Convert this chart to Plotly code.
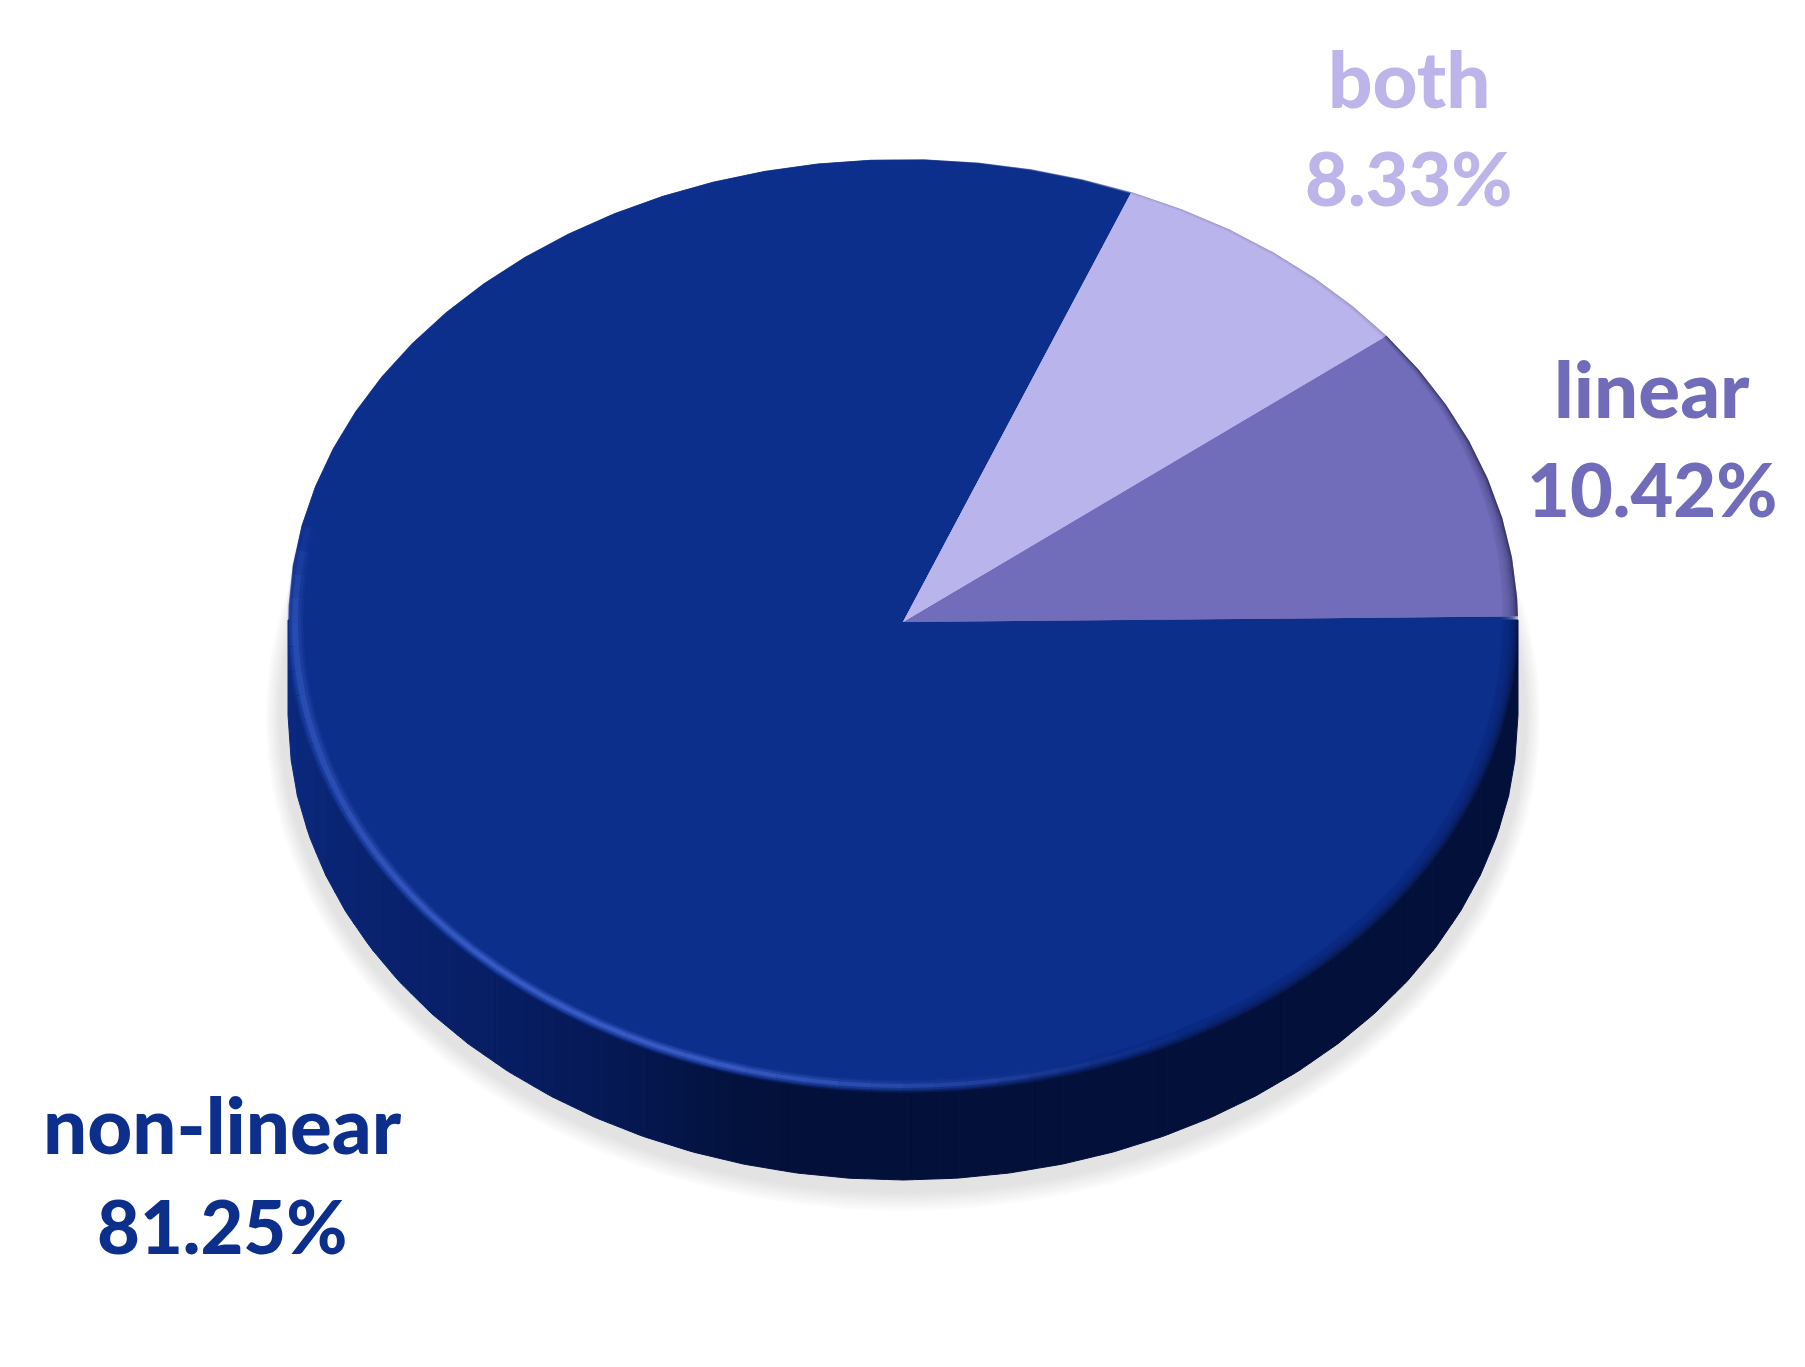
"""3D-look pie chart of model types."""

import numpy as np
import plotly.graph_objects as go

labels = ["linear", "both", "non-linear"]
shares = [10.42, 8.33, 81.25]
slice_colors = [(114, 109, 186), (185, 180, 236), (13, 47, 140)]
under_colors = [(35, 33, 80), (140, 135, 175), None]
text_colors = ["#716CBA", "#BDB5E9", "#0D2F8C"]
label_x = [1652, 1409, 222]
label_y = [388, 78, 1124]
value_y = [488, 177, 1225]

W, H = 1805, 1367
CX, CY = 903, 622
RX, RY = 615, 463
DEPTH = 93
BULGE = 8
START = 0.7

wall_x = [288, 330, 430, 575, 736, 800, 1518]
wall_r = [11, 10, 9, 7, 3, 3, 3]
wall_g = [42, 37, 33, 27, 18, 17, 17]
wall_b = [128, 116, 107, 91, 62, 58, 58]


def inset_at(deg):
    deg = np.mod(deg, 360)
    return np.interp(deg, [0, 37.5, 67.5, 90, 170, 190, 230, 270, 320, 360],
                     [16, 4, 2, 0.6, 0.6, 3, 4, 11, 14, 16])


def rim(deg, amount=1.0, extra=0.0):
    deg = np.asarray(deg, dtype=float)
    t = np.radians(deg)
    off = inset_at(deg) * amount + extra
    x = CX + (RX - off) * np.cos(t)
    y = CY - (RY - off) * np.sin(t) + BULGE * np.maximum(0, -np.sin(t))
    return x, y


def arc_degs(a, b):
    # the source outline is a coarse polygon on the upper half, smooth below
    coarse = np.arange(3, 180, 5.0)
    fine = np.arange(180, 361, 0.5)
    grid = np.r_[coarse, fine]
    grid = grid[(grid > a) & (grid < b)]
    return np.r_[a, grid, b]


def sector(a, b, amount=1.0):
    x, y = rim(arc_degs(a, b), amount)
    return np.r_[CX, x, CX], np.r_[CY, y, CY]


def rgb(c, a=1.0):
    return f"rgba({c[0]},{c[1]},{c[2]},{a})"


fig = go.Figure()


def add_fill(x, y, color, line=0):
    fig.add_trace(go.Scatter(
        x=x, y=y, mode="lines", fill="toself", fillcolor=color,
        line=dict(width=line, color=color), hoverinfo="skip", showlegend=False,
    ))


# soft shadow below the disc
for k, f in enumerate(np.linspace(0, 1, 16)):
    shade = int(255 - 28 * min(1, f * 1.5))
    tt = np.radians(np.linspace(0, 360, 361))
    add_fill(CX + (RX + 24 * (1 - f)) * np.cos(tt),
             CY + DEPTH + 3 + (RY + 2 + 30 * (1 - f)) * np.sin(tt),
             rgb((shade, shade, shade)))

# side wall, strip by strip so the shading runs left to right
poly_t = np.radians(np.arange(180, 361, 5.0))
poly_x = CX + RX * np.cos(poly_t)
poly_y = CY + DEPTH - (RY + 2) * np.sin(poly_t)
edges = np.linspace(wall_x[0], wall_x[-1], 131)
for left, right in zip(edges[:-1], edges[1:]):
    xs = np.linspace(left, right, 4)
    bottom = np.interp(xs, poly_x, poly_y)
    mid = (left + right) / 2
    c = (np.interp(mid, wall_x, wall_r), np.interp(mid, wall_x, wall_g), np.interp(mid, wall_x, wall_b))
    add_fill(np.r_[left, xs, right, left], np.r_[CY - 2, bottom, CY - 2, CY - 2],
             rgb(tuple(int(v) for v in c)), line=1)

# slices, drawn from the shares, with a stepped soft edge
spans = []
pos = START
for share in shares:
    end = pos + share * 3.6
    spans.append((pos, end))
    pos = end

for i in [2, 0, 1]:
    a, b = spans[i]
    if under_colors[i]:
        add_fill(*sector(a, b, 0), rgb(under_colors[i]))
    steps = np.linspace(0, 1, 8)
    for f in steps[:-1]:
        add_fill(*sector(a, b, f), rgb(slice_colors[i], 0.3))
    add_fill(*sector(a, b, 1), rgb(slice_colors[i]))

# light rim on the lower left of the face
hi_deg = np.arange(165, 300, 3.0)
hi_level = np.interp(hi_deg, [165, 178, 200, 225, 250, 268, 285, 300], [0, 0.55, 0.6, 1, 1, 0.55, 0.2, 0])
hi_scale = np.interp(hi_deg, [165, 190, 220, 300], [1.5, 1.5, 1, 1])
peak = (62, 98, 205)
for width, strength in [(11, 0.2), (8, 0.35), (4, 0.7)]:
    for d, lev, sc in zip(hi_deg, hi_level, hi_scale):
        if lev < 0.02:
            continue
        x, y = rim(np.linspace(d, d + 3, 5), 0, 7)
        fig.add_trace(go.Scatter(
            x=x, y=y, mode="lines", hoverinfo="skip", showlegend=False,
            line=dict(width=width * sc, color=rgb(peak, round(float(lev * strength), 3))),
        ))

for i, name in enumerate(labels):
    for text, y, size in [(name, label_y[i], 78), (f"{shares[i]:.2f}%", value_y[i], 74)]:
        fig.add_annotation(
            x=label_x[i], y=y, text=text, showarrow=False, xanchor="center", yanchor="middle",
            font=dict(family="Lato", size=size, color=text_colors[i], weight=900),
        )

fig.update_layout(
    width=W, height=H, margin=dict(l=0, r=0, t=0, b=0),
    paper_bgcolor="white", plot_bgcolor="white", showlegend=False,
    xaxis=dict(range=[0, W], visible=False, fixedrange=True),
    yaxis=dict(range=[H, 0], visible=False, fixedrange=True),
)
fig.write_html("out.html", config=dict(displayModeBar=False),
               post_script="document.body.style.margin='0';")
